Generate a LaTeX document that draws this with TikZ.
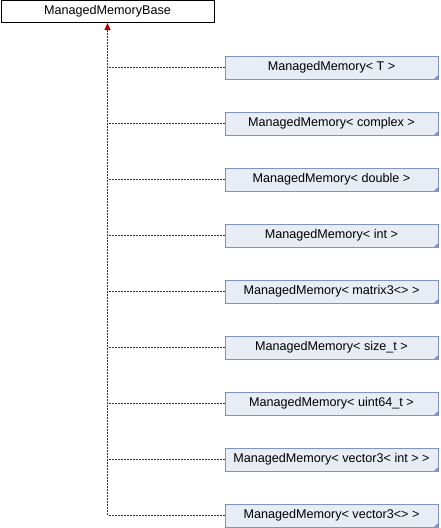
\documentclass[tikz,border=0pt]{standalone}
\usepackage{fontspec}
\setmainfont{Liberation Sans}
\usetikzlibrary{arrows.meta, positioning}
\definecolor{inheritRed}{HTML}{B00000}
\definecolor{classBorder}{HTML}{7F93C5}
\definecolor{classFill}{HTML}{E8ECF5}

\begin{document}
\begin{tikzpicture}[x=1pt, y=-1pt,
    basebox/.style={draw=black, fill=white, line width=1pt,
      minimum width=213pt, minimum height=22pt, inner sep=0pt,
      font=\fontsize{12.6}{14}\selectfont},
    childbox/.style={draw=classBorder, fill=classFill, line width=1pt,
      minimum width=213pt, minimum height=23pt, inner sep=0pt,
      font=\fontsize{12.6}{14}\selectfont},
    inherit/.style={draw=inheritRed, line width=1pt, dash pattern=on 2pt off 1pt}]
  \useasboundingbox (0,0) rectangle (440,528);

  \node[basebox] (base) at (107.5,11.5) {ManagedMemoryBase};

  % derived classes
  \foreach \cls [count=\i] in {T, complex, double, int, matrix3<>, size\_t,
      uint64\_t, vector3< int >, vector3<>} {
    \node[childbox] (child\i) at (331.5,56*\i+11.5) {ManagedMemory< \cls\ >};
    \fill[classBorder] (child\i.south east) -- ++(0,-5) -- ++(-5,5) -- cycle;
    \draw[inherit] (child\i.west) -- (base.south |- child\i.west);
  }

  \coordinate (trunk) at (base.south |- child9.west);
  \draw[inherit, {Triangle[length=7pt, width=6pt]}-] (base.south) -- (trunk);
\end{tikzpicture}
\end{document}
